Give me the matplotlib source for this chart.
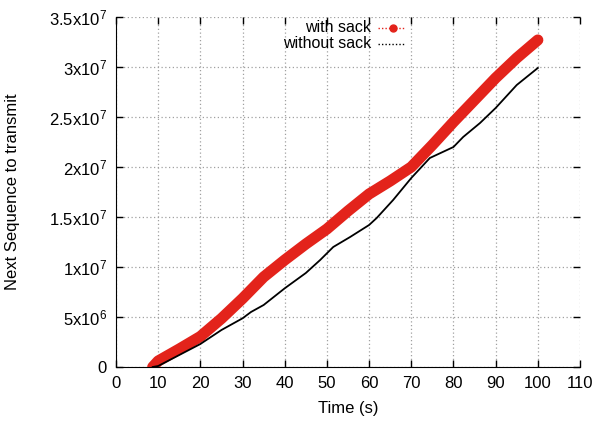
import numpy as np
import matplotlib
matplotlib.use('Agg')
import matplotlib.pyplot as plt
from matplotlib.lines import Line2D
from matplotlib.ticker import FuncFormatter, MultipleLocator

plt.rcParams['font.family'] = ['Liberation Sans', 'DejaVu Sans']
plt.rcParams['mathtext.fontset'] = 'custom'
plt.rcParams['mathtext.rm'] = 'Liberation Sans'
plt.rcParams['mathtext.it'] = 'Liberation Sans'

# next sequence number vs time, with and without SACK
t_sack = [8.7, 10, 15, 20, 25, 30, 35, 40, 45, 50, 55, 60, 65, 70, 75, 80, 85, 90, 95, 100]
seq_sack = [0, 0.6e6, 1.8e6, 3.05e6, 4.85e6, 6.85e6, 9.0e6, 10.7e6, 12.3e6, 13.8e6,
            15.6e6, 17.3e6, 18.6e6, 20.0e6, 22.2e6, 24.5e6, 26.7e6, 28.9e6, 30.9e6, 32.7e6]

t_nosack = [8.7, 10, 15, 20, 25, 30, 32, 35, 40, 45, 48.4, 51.5, 55.5, 60, 61.8, 65.7,
            70, 74.4, 80, 82.3, 86.3, 90, 95, 100]
seq_nosack = [0, 0.1e6, 1.2e6, 2.3e6, 3.7e6, 4.87e6, 5.5e6, 6.2e6, 7.87e6, 9.4e6, 10.7e6,
              12.0e6, 13.0e6, 14.2e6, 14.9e6, 16.7e6, 18.9e6, 20.9e6, 22.0e6, 23.0e6,
              24.4e6, 25.9e6, 28.2e6, 29.9e6]


def sci_fmt(v, pos):
    if v <= 0:
        return '0'
    exp = int(np.floor(np.log10(v) + 1e-9))
    mant = v / 10 ** exp
    mant_s = ('%g' % round(mant, 2))
    return mant_s + 'x10$^{%d}$' % exp


fig = plt.figure(figsize=(5.97, 4.21), dpi=100)
ax = fig.add_axes([116 / 597, 1 - 367 / 421, (580 - 116) / 597, (367 - 17) / 421])

ax.plot(t_sack, seq_sack, color='#e3231b', lw=8, solid_capstyle='round',
        solid_joinstyle='round', zorder=3)
ax.plot(t_nosack, seq_nosack, color='black', lw=1.3, zorder=4)

ax.set_xlim(0, 110)
ax.set_ylim(0, 3.5e7)
ax.xaxis.set_major_locator(MultipleLocator(10))
ax.yaxis.set_major_locator(MultipleLocator(5e6))
ax.yaxis.set_major_formatter(FuncFormatter(sci_fmt))

ax.grid(True, color='#a0a0a0', linestyle=(0, (1, 2)), lw=0.9)
ax.spines['top'].set_visible(False)
ax.spines['right'].set_visible(False)
ax.tick_params(direction='in', top=True, right=True, length=5, width=1,
               labelsize=12, pad=6.5)
ax.set_xlabel('Time (s)', fontsize=12, va='center', ha='center')
ax.set_ylabel('Next Sequence to transmit', fontsize=12, va='center', ha='center')
ax.yaxis.set_label_coords((13 - 116) / 464, 0.5)
ax.xaxis.set_label_coords(0.5, (367 - 408) / 350)

# key in gnuplot style: right-aligned text with sample on its right
tr = ax.transAxes
def fx(px):
    return (px - 116) / (580 - 116)
def fy(py):
    return (367 - py) / (367 - 17)

ax.text(fx(371), fy(27), 'with sack', transform=tr, ha='right', va='center', fontsize=11.5)
ax.text(fx(371), fy(44), 'without sack', transform=tr, ha='right', va='center', fontsize=11.5)
ax.add_line(Line2D([fx(378), fx(405)], [fy(28), fy(28)], transform=tr, color='#e3231b',
                   lw=1, linestyle=(0, (1, 1.5))))
ax.add_line(Line2D([fx(393)], [fy(28)], transform=tr, color='#e3231b', marker='o',
                   markersize=5))
ax.add_line(Line2D([fx(378), fx(405)], [fy(44), fy(44)], transform=tr, color='black',
                   lw=1, linestyle=(0, (1, 1.5))))

fig.savefig('out.png', dpi=100)
